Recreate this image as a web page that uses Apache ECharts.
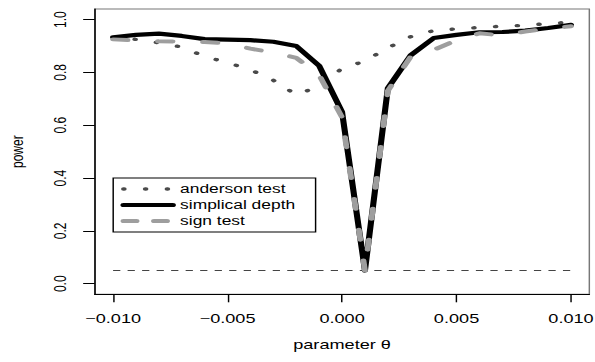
<!DOCTYPE html>
<html>
<head>
<meta charset="utf-8">
<script src="https://cdn.jsdelivr.net/npm/echarts@6/dist/echarts.min.js"></script>
<style>
  html, body { margin: 0; padding: 0; background: #fff; overflow: hidden; }
  /* the original plot is stretched sideways, so draw narrow and widen it */
  #main { width: 410px; height: 362px; transform: scaleX(1.4512); transform-origin: 0 0; }
</style>
</head>
<body>
<div id="main"></div>
<script>
// theta grid
var theta = [-0.010, -0.009, -0.008, -0.007, -0.006, -0.005, -0.004, -0.003, -0.002, -0.001,
             0.000, 0.001, 0.002, 0.003, 0.004, 0.005, 0.006, 0.007, 0.008, 0.009, 0.010];
var andersonPower = [0.930, 0.925, 0.912, 0.896, 0.860, 0.837, 0.810, 0.770, 0.715, 0.748,
                     0.815, 0.843, 0.893, 0.935, 0.958, 0.965, 0.970, 0.975, 0.978, 0.985, 0.990];
var simplicalPower = [0.933, 0.942, 0.947, 0.938, 0.926, 0.924, 0.922, 0.916, 0.900, 0.825,
                      0.650, 0.050, 0.740, 0.865, 0.930, 0.942, 0.952, 0.953, 0.958, 0.968, 0.980];
var signPower = [0.925, 0.921, 0.918, 0.917, 0.915, 0.910, 0.890, 0.875, 0.855, 0.790,
                 0.630, 0.050, 0.730, 0.860, 0.885, 0.922, 0.948, 0.940, 0.955, 0.965, 0.975];
var nullLevel = 0.05;
var xTicks = [-0.010, -0.005, 0.000, 0.005, 0.010];
var yTicks = [0.0, 0.2, 0.4, 0.6, 0.8, 1.0];
var names = ['anderson test', 'simplical depth', 'sign test'];

var font = "'Liberation Sans', Arial, sans-serif";

var styles = {
    anderson: { color: '#4a4a4a', width: 3.4, type: [0.5, 14.5], cap: 'round' },
    simplical: { color: '#000', width: 4.2, join: 'round', cap: 'round' },
    sign: { color: '#9e9e9e', width: 4, type: [10, 21], cap: 'round', join: 'round' }
};

function pairs(ys) {
    return theta.map(function (t, i) { return [t, ys[i]]; });
}

var myChart = echarts.init(document.getElementById('main'), null, { renderer: 'svg' });

var option = {
    animation: false,
    backgroundColor: '#fff',
    grid: {
        left: 65.3, right: 3.9, top: 9, bottom: 67.7,
        outerBoundsMode: 'none',
        show: true, borderColor: '#777', borderWidth: 1
    },
    legend: {
        orient: 'vertical',
        left: 78, top: 178,
        padding: [5, 14, 5, 5],
        itemWidth: 34, itemHeight: 14, itemGap: 4,
        borderColor: '#000', borderWidth: 1,
        itemStyle: { opacity: 0 },
        textStyle: { fontFamily: font, fontSize: 12, color: '#000' },
        data: [
            { name: names[0], lineStyle: styles.anderson },
            { name: names[1], lineStyle: styles.simplical },
            { name: names[2], lineStyle: { color: '#9e9e9e', width: 4, type: [9, 12], cap: 'round' } }
        ]
    },
    xAxis: {
        type: 'value',
        min: -0.0108, max: 0.0108,
        name: 'parameter θ',
        nameLocation: 'middle',
        nameGap: 44,
        nameTextStyle: { fontFamily: font, fontSize: 12.5, color: '#000' },
        axisLine: { show: true, onZero: false, lineStyle: { color: '#000', width: 1 } },
        axisTick: { show: true, customValues: xTicks, length: 8, lineStyle: { color: '#000' } },
        axisLabel: {
            customValues: xTicks, margin: 18,
            fontFamily: font, fontSize: 12.5, color: '#000',
            formatter: function (v) { return v.toFixed(3).replace('-', '\u2212'); }
        },
        splitLine: { show: false }
    },
    yAxis: {
        type: 'value',
        min: -0.04, max: 1.04,
        name: 'power',
        nameLocation: 'middle',
        nameGap: 48,
        nameTextStyle: { fontFamily: font, fontSize: 12, color: '#000' },
        axisLine: { show: true, onZero: false, lineStyle: { color: '#000', width: 1 } },
        axisTick: { show: true, customValues: yTicks, length: 8, lineStyle: { color: '#000' } },
        axisLabel: {
            customValues: yTicks, margin: 18, rotate: 90,
            fontFamily: font, fontSize: 12, color: '#000',
            formatter: function (v) { return v.toFixed(1); }
        },
        splitLine: { show: false }
    },
    series: [
        {
            name: 'null', type: 'line', symbol: 'none', silent: true,
            data: pairs(theta.map(function () { return nullLevel; })),
            lineStyle: { color: '#444', width: 1, type: [5, 5] }
        },
        {
            name: names[0], type: 'line', symbol: 'none',
            itemStyle: { color: styles.anderson.color },
            data: pairs(andersonPower),
            lineStyle: styles.anderson
        },
        {
            name: names[1], type: 'line', symbol: 'none',
            itemStyle: { color: styles.simplical.color },
            data: pairs(simplicalPower),
            lineStyle: styles.simplical
        },
        {
            name: names[2], type: 'line', symbol: 'none',
            itemStyle: { color: styles.sign.color },
            data: pairs(signPower),
            lineStyle: styles.sign
        }
    ]
};
myChart.setOption(option);
</script>
</body>
</html>
